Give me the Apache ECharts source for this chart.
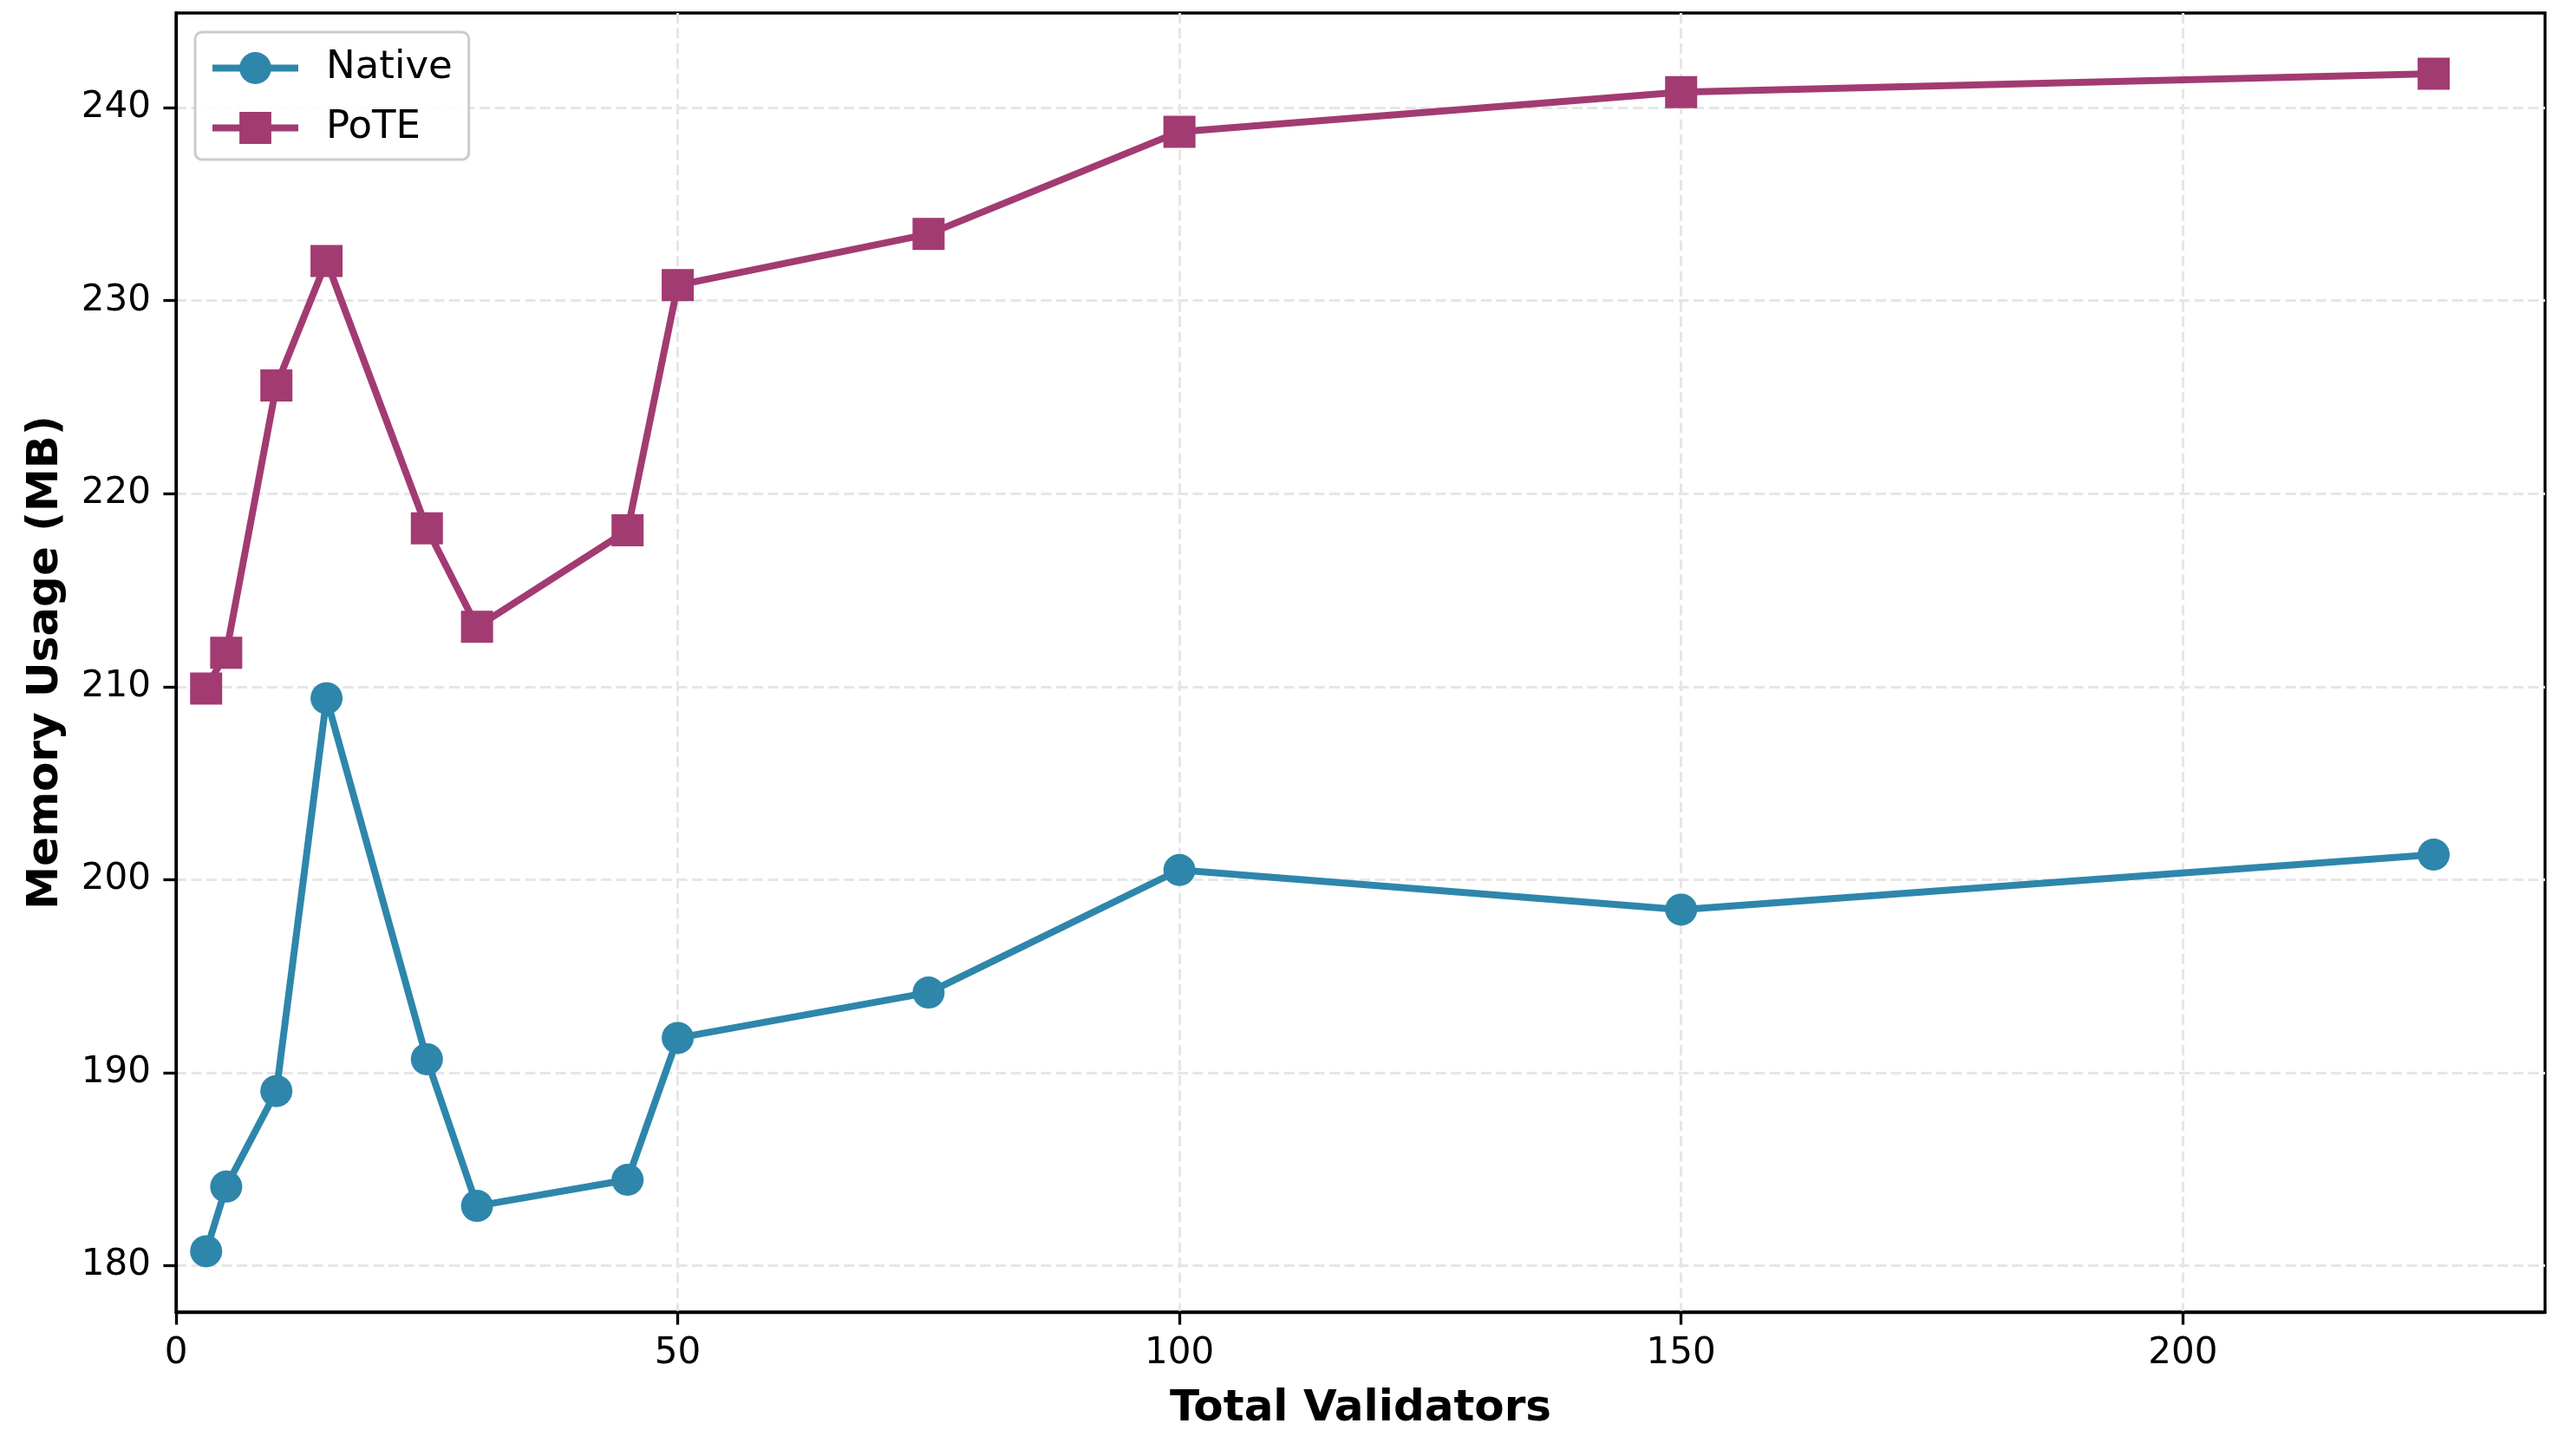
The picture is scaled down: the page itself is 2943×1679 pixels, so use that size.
<!DOCTYPE html>
<html>
<head>
<meta charset="utf-8">
<script src="https://cdn.jsdelivr.net/npm/echarts@6/dist/echarts.min.js"></script>
<style>
html,body{margin:0;padding:0;background:#fff;}
#chart{width:2943px;height:1679px;}
</style>
</head>
<body>
<div id="chart"></div>
<script>
const validators = [3, 5, 10, 15, 25, 30, 45, 50, 75, 100, 150, 225];
const nativeMem = [180.75, 184.1, 189.05, 209.4, 190.7, 183.1, 184.45, 191.8, 194.15, 200.5, 198.45, 201.3];
const poteMem = [209.9, 211.75, 225.6, 232.05, 218.2, 213.1, 218.1, 230.8, 233.45, 238.75, 240.8, 241.75];
const xTicks = [0, 50, 100, 150, 200];
const yTicks = [180, 190, 200, 210, 220, 230, 240];
const seriesNames = ['Native', 'PoTE'];
const titleText = 'Memory Usage';
const xName = 'Total Validators';
const yName = 'Memory Usage (MB)';

const FONT = 'DejaVu Sans';
const pairs = (ys) => validators.map((x, i) => [x, ys[i]]);

const chart = echarts.init(document.getElementById('chart'), null, {renderer: 'canvas'});

const gridLine = {show: true, lineStyle: {color: '#e6e6e6', width: 3, type: [12, 5.5]}};

chart.setOption({
  backgroundColor: '#ffffff',
  animation: false,
  textStyle: {fontFamily: FONT},
  graphic: [{
    type: 'text',
    x: 1568.5,
    y: 1,
    z: 100,
    style: {
      text: titleText,
      align: 'center',
      verticalAlign: 'bottom',
      fontFamily: FONT,
      fontWeight: 'bold',
      fontSize: 58,
      fill: '#000'
    }
  }],
  grid: {
    left: 203, right: 8, top: 15, bottom: 166,
    show: true, borderColor: '#000', borderWidth: 3.3,
    outerBoundsMode: 'none',
    containLabel: false
  },
  legend: {
    show: true,
    data: seriesNames,
    orient: 'vertical',
    left: 225,
    top: 37,
    padding: [19, 19, 14, 16],
    itemWidth: 99,
    itemHeight: 46,
    itemGap: 24,
    backgroundColor: 'rgba(255,255,255,0.85)',
    borderColor: '#cccccc',
    borderWidth: 3,
    borderRadius: 8,
    lineStyle: {width: 8},
    textStyle: {fontFamily: FONT, fontSize: 45, color: '#000', padding: [0, 0, 0, 27]}
  },
  xAxis: {
    type: 'value',
    min: 0,
    max: 236.1,
    interval: 50,
    name: xName,
    nameLocation: 'middle',
    nameGap: 87,
    nameTextStyle: {fontFamily: FONT, fontWeight: 'bold', fontSize: 50, color: '#000'},
    axisLine: {show: true, onZero: false, lineStyle: {color: '#000', width: 3.3}},
    axisTick: {show: true, length: 14.6, lineStyle: {color: '#000', width: 3.3}, customValues: xTicks},
    axisLabel: {show: true, fontFamily: FONT, fontSize: 42, color: '#000', margin: 27, customValues: xTicks,
      formatter: (v) => String(v)},
    splitLine: gridLine
  },
  yAxis: {
    type: 'value',
    min: 177.6,
    max: 244.9,
    interval: 10,
    name: yName,
    nameLocation: 'middle',
    nameGap: 125,
    nameTextStyle: {fontFamily: FONT, fontWeight: 'bold', fontSize: 50, color: '#000'},
    axisLine: {show: true, onZero: false, lineStyle: {color: '#000', width: 3.3}},
    axisTick: {show: true, length: 14.6, lineStyle: {color: '#000', width: 3.3}, customValues: yTicks},
    axisLabel: {show: true, fontFamily: FONT, fontSize: 42, color: '#000', margin: 29, customValues: yTicks,
      formatter: (v) => String(v)},
    splitLine: gridLine
  },
  series: [
    {
      name: seriesNames[0],
      type: 'line',
      data: pairs(nativeMem),
      symbol: 'circle',
      symbolSize: 37,
      showAllSymbol: true,
      lineStyle: {color: '#2E86AB', width: 8},
      itemStyle: {color: '#2E86AB'},
      z: 3
    },
    {
      name: seriesNames[1],
      type: 'line',
      data: pairs(poteMem),
      symbol: 'rect',
      symbolSize: 37,
      showAllSymbol: true,
      lineStyle: {color: '#A23B72', width: 8},
      itemStyle: {color: '#A23B72'},
      z: 4
    }
  ]
});
</script>
</body>
</html>
